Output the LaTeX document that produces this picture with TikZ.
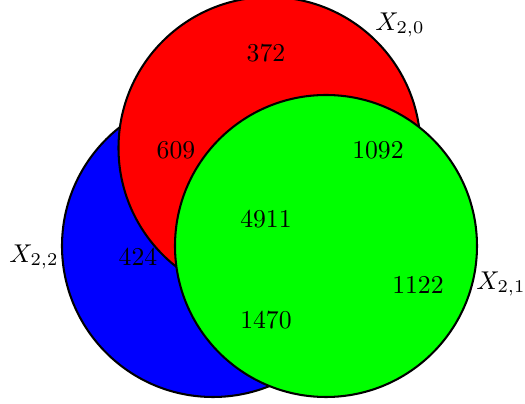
\documentclass[tikz,border=0pt]{standalone}
\begin{document}
\begin{tikzpicture}[x=0.389pt,y=-0.389pt,
  venn/.style={draw=black,line width=0.8pt,circle,minimum size=302*0.389pt,inner sep=0pt},
  num/.style={inner sep=0pt}]
\useasboundingbox (0,0) rectangle (525,404);
\node[venn,fill=blue] (c2) at (213,246) {};
\node[venn,fill=red] (c0) at (269.5,148) {};
\node[venn,fill=green] (c1) at (326,246) {};
\node[num] (l0) at (400,25) {$X_{2,0}$};
\node[num] (l1) at (501,284) {$X_{2,1}$};
\node[num] (l2) at (34,257) {$X_{2,2}$};
\node[num] (n372) at (266,53) {372};
\node[num] (n609) at (176,150) {609};
\node[num] (n1092) at (378,150) {1092};
\node[num] (n4911) at (266,219) {4911};
\node[num] (n424) at (138,257) {424};
\node[num] (n1122) at (418,285) {1122};
\node[num] (n1470) at (266,320) {1470};
\end{tikzpicture}
\end{document}
